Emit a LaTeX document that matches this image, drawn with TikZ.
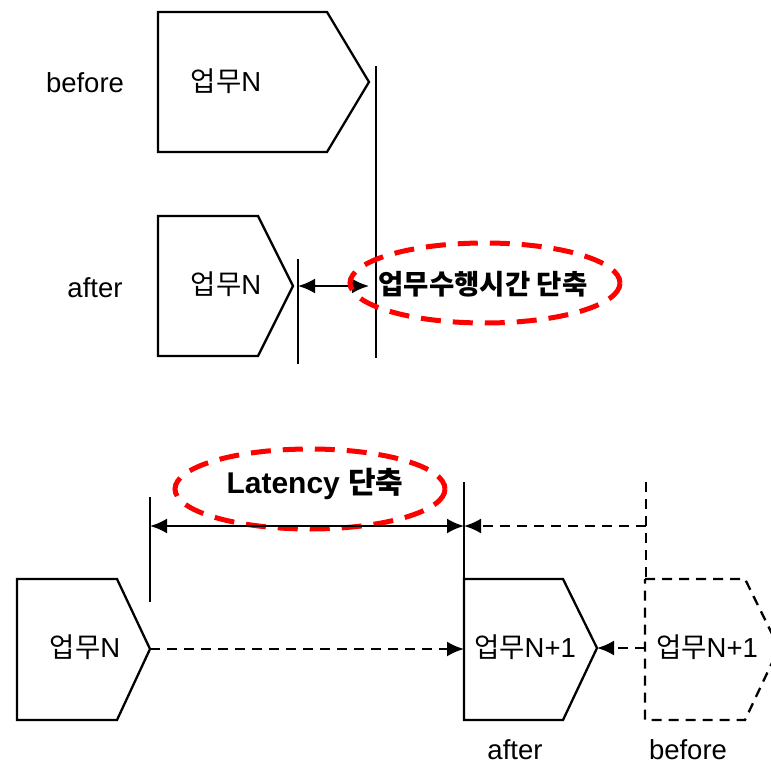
\documentclass[tikz,border=0pt]{standalone}
\usepackage{fontspec}
\setmainfont{Liberation Sans}
\newfontfamily\kr{Noto Sans CJK KR}
\usetikzlibrary{arrows.meta}

\tikzset{
  txt/.style={font=\fontsize{27.5}{32}\selectfont, inner sep=0pt},
  cut/.style={font=\fontsize{27.5}{32}\selectfont\bfseries, inner sep=0pt},
  ring/.style={draw=red, line width=5pt, dash pattern=on 20pt off 12pt},
  dim/.style={{Latex[length=17pt,width=15pt]}-{Latex[length=17pt,width=15pt]}},
  tip/.style={-{Latex[length=17pt,width=15pt]}},
  ghost/.style={dash pattern=on 10pt off 7pt}
}

\begin{document}
\begin{tikzpicture}[x=1pt, y=-1pt, line width=2.3pt]
  \useasboundingbox (0,0) rectangle (771,767);

  % before: 업무N
  \draw (158,12) -- (327,12) -- (369,82) coordinate (tipA) -- (327,152) -- (158,152) -- cycle;
  \node[txt] (taskA) at (226,81) {{\kr 업무}N};
  \node[txt] (beforeA) at (85,83) {before};
  \coordinate (endA1) at (376,66);
  \coordinate (endA2) at (376,358);
  \draw (endA1) -- (endA2);

  % after: 업무N
  \draw (158,216) -- (258,216) -- (293,286) coordinate (tipB) -- (258,356) -- (158,356) -- cycle;
  \node[txt] (taskB) at (226,284) {{\kr 업무}N};
  \node[txt] (afterB) at (95,288) {after};
  \coordinate (endB1) at (298,259);
  \coordinate (endB2) at (298,364);
  \draw (endB1) -- (endB2);

  % 단축 (top)
  \coordinate (gapL) at (298,286);
  \coordinate (gapR) at (369,286);
  \draw[dim] (gapL) -- (gapR);
  \coordinate (ringA) at (485,283);
  \draw[ring] (ringA) ellipse [x radius=135, y radius=40];
  \node[cut] (cutA) at (483,284) {\kr 업무수행시간 단축};

  % Latency 단축
  \coordinate (ringB) at (310,489);
  \draw[ring] (ringB) ellipse [x radius=135, y radius=40];
  \node[cut, font=\fontsize{30}{34}\selectfont\bfseries] (cutB) at (315,484) {Latency {\kr 단축}};
  \coordinate (latL1) at (150,497);
  \coordinate (latL2) at (150,602);
  \coordinate (latR1) at (464,482);
  \coordinate (latR2) at (464,579);
  \coordinate (oldR1) at (646,482);
  \coordinate (oldR2) at (646,579);
  \draw (latL1) -- (latL2);
  \draw (latR1) -- (latR2);
  \draw[ghost] (oldR1) -- (oldR2);
  \draw[dim] (150,526) coordinate (latA) -- (464,526) coordinate (latB);
  \draw[ghost, tip] (646,526) coordinate (oldA) -- (latB);

  % 업무N -> 업무N+1
  \draw (17,579) -- (117,579) -- (150,649) coordinate (tipC) -- (117,720) -- (17,720) -- cycle;
  \node[txt] (taskC) at (85,647) {{\kr 업무}N};
  \draw (464,579) -- (563,579) -- (597,648) coordinate (tipD) -- (563,720) -- (464,720) -- cycle;
  \coordinate (inD) at (464,649);
  \node[txt] (taskD) at (525,647) {{\kr 업무}N+1};
  \draw[ghost] (645,579) -- (745,579) -- (779,648) -- (745,720) -- (645,720) -- cycle;
  \coordinate (inE) at (645,648);
  \node[txt] (taskE) at (707,647) {{\kr 업무}N+1};
  \draw[ghost, tip] (tipC) -- (inD);
  \draw[ghost, tip] (inE) -- (tipD);

  \node[txt] (afterD) at (515,750) {after};
  \node[txt] (beforeE) at (688,750) {before};
\end{tikzpicture}
\end{document}
